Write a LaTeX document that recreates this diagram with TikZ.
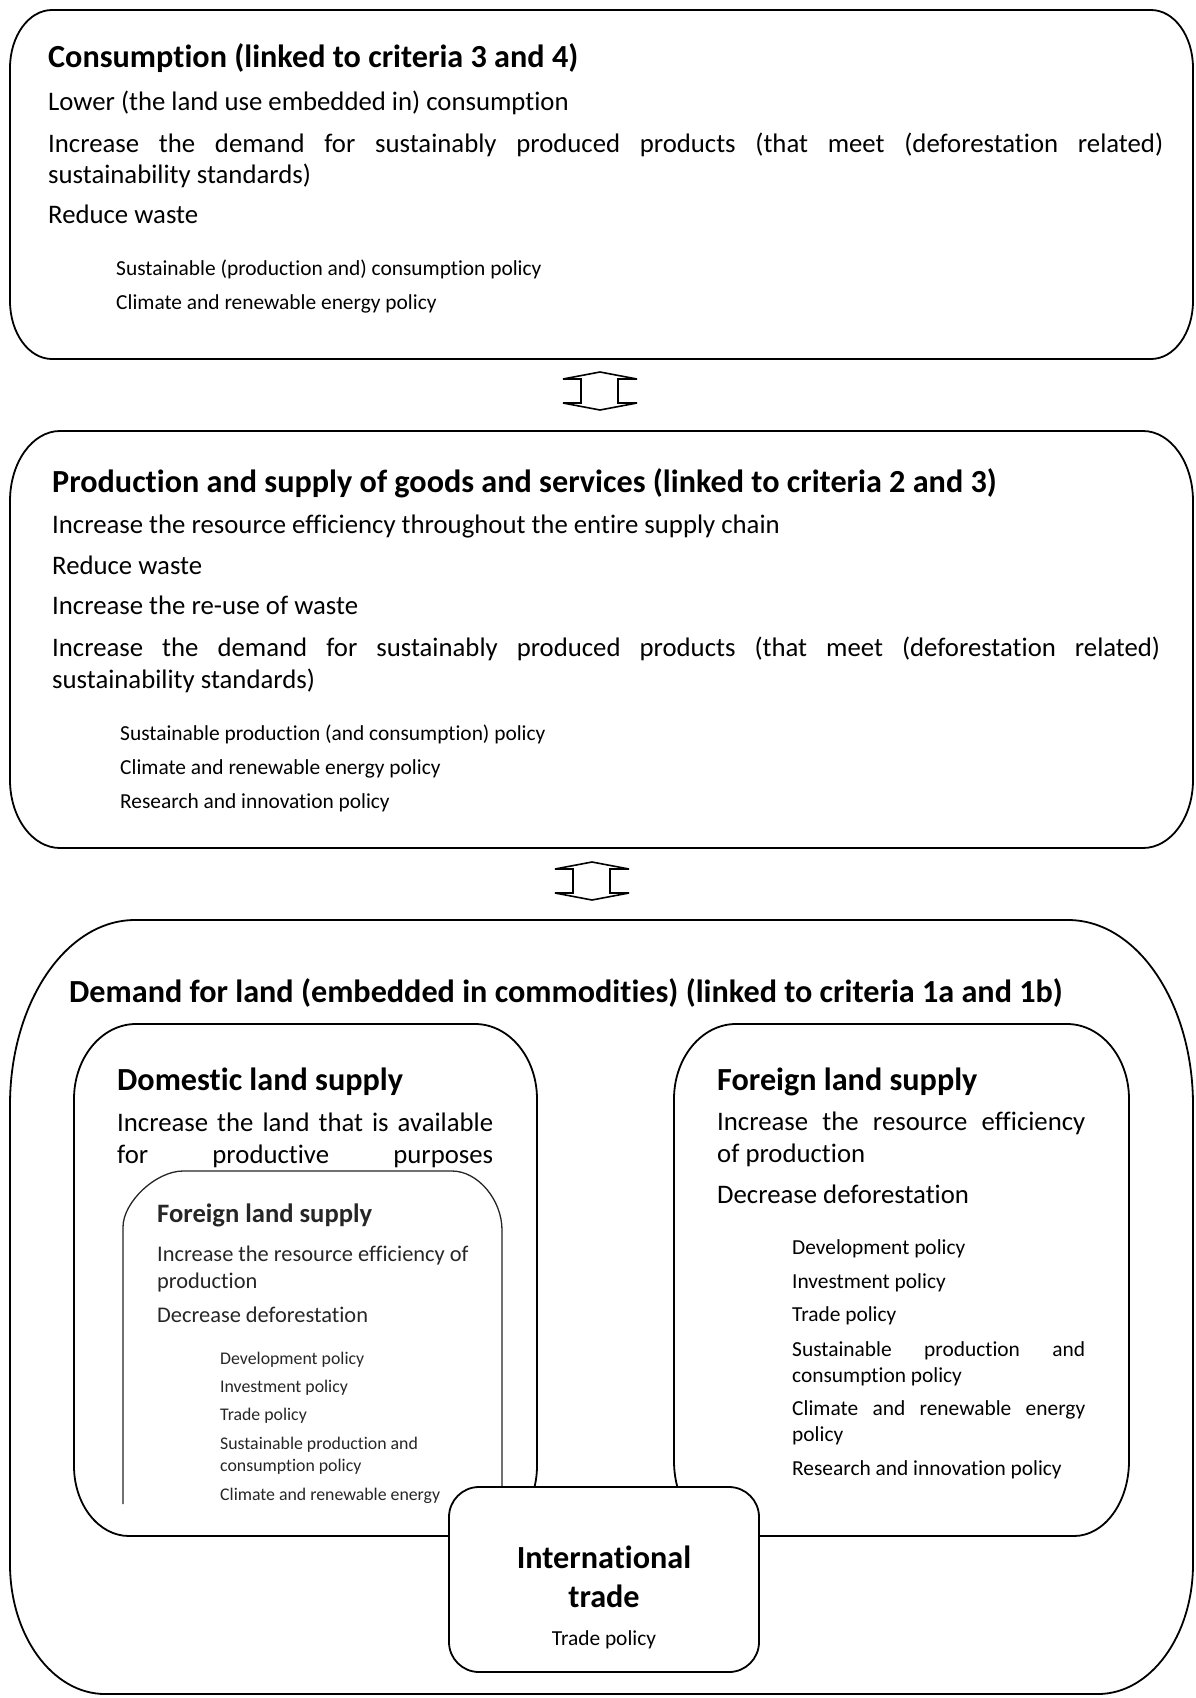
\documentclass[tikz,border=0pt]{standalone}
\usepackage{fontspec}
\setmainfont{Carlito}[Ligatures=NoCommon]
\newcommand\hdfont{\fontsize{32.2}{38}\selectfont\bfseries}
\newcommand\bdfont{\fontsize{26.75}{32}\selectfont}
\newcommand\plfont{\fontsize{21.4}{26}\selectfont}
\newcommand\ihfont{\fontsize{26.6}{31}\selectfont\bfseries}
\newcommand\ibfont{\fontsize{22.4}{26}\selectfont}
\newcommand\ipfont{\fontsize{17.8}{21}\selectfont}
% elliptic-corner box: [style] x1 y1 x2 y2 rxTop ryTop rxBot ryBot
\newcommand\ebox[9][]{%
  \draw[boxline,#1] (#2+#6,#3) -- (#4-#6,#3)
    .. controls (#4-0.4477*#6,#3) and (#4,#3+0.4477*#7) .. (#4,#3+#7)
    -- (#4,#5-#9)
    .. controls (#4,#5-0.4477*#9) and (#4-0.4477*#8,#5) .. (#4-#8,#5)
    -- (#2+#8,#5)
    .. controls (#2+0.4477*#8,#5) and (#2,#5-0.4477*#9) .. (#2,#5-#9)
    -- (#2,#3+#7)
    .. controls (#2,#3+0.4477*#7) and (#2+0.4477*#6,#3) .. (#2+#6,#3) -- cycle;}
\newcommand\udarrow[2]{% center x, top y
  \draw[arrowline] (#1,#2) -- (#1+37,#2+7) -- (#1+18,#2+7) -- (#1+18,#2+31)
    -- (#1+37,#2+31) -- (#1,#2+38) -- (#1-37,#2+31) -- (#1-19,#2+31)
    -- (#1-19,#2+7) -- (#1-37,#2+7) -- cycle;}
\tikzset{
  boxline/.style={line width=1.8pt, black, line join=round},
  arrowline/.style={line width=1.6pt, black, fill=white, line join=miter},
  hd/.style={anchor=base west, inner sep=0pt, font=\hdfont},
  bd/.style={anchor=base west, inner sep=0pt, font=\bdfont},
  pl/.style={anchor=base west, inner sep=0pt, font=\plfont},
  ihd/.style={anchor=base west, inner sep=0pt, font=\ihfont, text=black!85},
  ibd/.style={anchor=base west, inner sep=0pt, font=\ibfont, text=black!85},
  ipl/.style={anchor=base west, inner sep=0pt, font=\ipfont, text=black!85},
  ctr/.style={anchor=base, inner sep=0pt},
}
\begin{document}
\begin{tikzpicture}[x=1pt,y=-1pt]
\useasboundingbox (0,0) rectangle (1195,1698);
\fill[white] (0,0) rectangle (1195,1698);

% ---------- Box 1 : Consumption ----------
\ebox{10}{10}{1193}{359}{42}{58}{42}{58}
\node[hd] (c-h) at (48,67) {Consumption (linked to criteria 3 and 4)};
\node[bd] (c-1) at (48,110) {Lower (the land use embedded in) consumption};
\node[bd] (c-2) at (48,152) {\makebox[1115pt][s]{Increase the demand for sustainably produced products (that meet (deforestation related)}};
\node[bd] (c-3) at (48,183) {sustainability standards)};
\node[bd] (c-4) at (48,223) {Reduce waste};
\node[pl] (c-5) at (116,275) {Sustainable (production and) consumption policy};
\node[pl] (c-6) at (116,309) {Climate and renewable energy policy};

% ---------- arrow 1 ----------
\coordinate (a1) at (600,372);
\udarrow{600}{372}

% ---------- Box 2 : Production ----------
\ebox{10}{431}{1193}{848}{50}{70}{50}{68}
\node[hd] (p-h) at (52,492) {Production and supply of goods and services (linked to criteria 2 and 3)};
\node[bd] (p-1) at (52,533) {Increase the resource efficiency throughout the entire supply chain};
\node[bd] (p-2) at (52,574) {Reduce waste};
\node[bd] (p-3) at (52,614) {Increase the re-use of waste};
\node[bd] (p-4) at (52,656) {\makebox[1108pt][s]{Increase the demand for sustainably produced products (that meet (deforestation related)}};
\node[bd] (p-5) at (52,688) {sustainability standards)};
\node[pl] (p-6) at (120,740) {Sustainable production (and consumption) policy};
\node[pl] (p-7) at (120,774) {Climate and renewable energy policy};
\node[pl] (p-8) at (120,808) {Research and innovation policy};

% ---------- arrow 2 ----------
\coordinate (a2) at (592,862);
\udarrow{592}{862}

% ---------- Box 3 : Demand for land ----------
\ebox{10}{920}{1193}{1694}{125}{185}{95}{130}
\node[hd] (d-h) at (69,1002) {Demand for land (embedded in commodities) (linked to criteria 1a and 1b)};

% Domestic land supply
\ebox{74}{1024}{537}{1536}{62}{75}{55}{70}
\node[hd] (dl-h) at (117,1090) {Domestic land supply};
\node[bd] (dl-1) at (117,1131) {\makebox[376pt][s]{Increase the land that is available}};
\node[bd] (dl-2) at (117,1163) {\makebox[376pt][s]{for productive purposes}};

% Foreign land supply
\ebox{674}{1024}{1129}{1536}{62}{75}{55}{75}
\node[hd] (fl-h) at (717,1090) {Foreign land supply};
\node[bd] (fl-1) at (717,1130) {\makebox[368pt][s]{Increase the resource efficiency}};
\node[bd] (fl-2) at (717,1162) {of production};
\node[bd] (fl-3) at (717,1203) {Decrease deforestation};
\node[pl] (fl-4) at (792,1254) {Development policy};
\node[pl] (fl-5) at (792,1288) {Investment policy};
\node[pl] (fl-6) at (792,1321) {Trade policy};
\node[pl] (fl-7) at (792,1356) {\makebox[293pt][s]{Sustainable production and}};
\node[pl] (fl-8) at (792,1382) {consumption policy};
\node[pl] (fl-9) at (792,1415) {\makebox[293pt][s]{Climate and renewable energy}};
\node[pl] (fl-10) at (792,1441) {policy};
\node[pl] (fl-11) at (792,1475) {Research and innovation policy};

% Inner (embedded picture) Foreign land supply
\draw[line width=1.3pt, black!85] (123,1504) -- (123,1227)
  .. controls (123,1202) and (156,1171) .. (183,1171) -- (452,1171)
  .. controls (478,1171) and (502,1200) .. (502,1230) -- (502,1504);
\begin{scope}
\clip (110,1171) rectangle (510,1505);
\node[ihd] (in-h) at (157,1222) {Foreign land supply};
\node[ibd] (in-1) at (157,1261) {Increase the resource efficiency of};
\node[ibd] (in-2) at (157,1288) {production};
\node[ibd] (in-3) at (157,1322) {Decrease deforestation};
\node[ipl] (in-4) at (220,1364) {Development policy};
\node[ipl] (in-5) at (220,1392) {Investment policy};
\node[ipl] (in-6) at (220,1420) {Trade policy};
\node[ipl] (in-7) at (220,1449) {Sustainable production and};
\node[ipl] (in-8) at (220,1471) {consumption policy};
\node[ipl] (in-9) at (220,1500) {Climate and renewable energy};
\end{scope}

% International trade
\draw[boxline, fill=white, rounded corners=30pt] (449,1487) rectangle (759,1672);
\node[ctr, font=\hdfont] (it-1) at (604,1568) {International};
\node[ctr, font=\hdfont] (it-2) at (604,1607) {trade};
\node[ctr, font=\plfont] (it-3) at (604,1645) {Trade policy};
\end{tikzpicture}
\end{document}
